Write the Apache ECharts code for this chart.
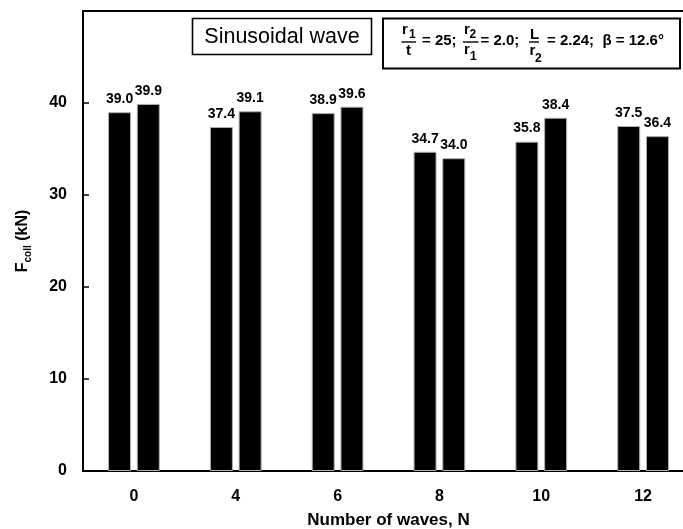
<!DOCTYPE html>
<html>
<head>
<meta charset="utf-8">
<script src="https://cdn.jsdelivr.net/npm/echarts@6/dist/echarts.min.js"></script>
<style>
  html, body { margin: 0; padding: 0; background: #fff; }
  #chart { width: 683px; height: 529px; }
</style>
</head>
<body>
<div id="chart"></div>
<script>
// Number of waves on the x axis, two loading cases per wave count
const categories = ['0', '4', '6', '8', '10', '12'];
const seriesA = [39.0, 37.4, 38.9, 34.7, 35.8, 37.5];
const seriesB = [39.9, 39.1, 39.6, 34.0, 38.4, 36.4];
const yTicks = { min: 0, max: 50, interval: 10 };

const FONT = "'Liberation Sans', Arial, sans-serif";

const chart = echarts.init(document.getElementById('chart'), null, { renderer: 'canvas' });

function barSeries(name, data) {
  return {
    name: name,
    type: 'bar',
    data: data,
    barWidth: 23,
    barGap: '25%',
    itemStyle: { color: '#000', borderColor: '#b0b0b0', borderWidth: 1 },
    label: {
      show: true,
      position: 'top',
      distance: 6,
      color: '#000',
      fontFamily: FONT,
      fontWeight: 'bold',
      fontSize: 14,
      formatter: p => p.value.toFixed(1)
    }
  };
}

// Small text helper for the formula box
function t(text, x, y, size) {
  return {
    type: 'text',
    style: {
      x: x, y: y, text: text,
      fill: '#000',
      font: 'bold ' + size + 'px ' + FONT,
      textAlign: 'left',
      textVerticalAlign: 'middle'
    }
  };
}
function bar(x1, x2, y) {
  return { type: 'line', shape: { x1: x1, y1: y, x2: x2, y2: y }, style: { stroke: '#000', lineWidth: 1.4 } };
}

const option = {
  backgroundColor: '#fff',
  animation: false,
  // plot frame runs past the right edge of the canvas
  grid: {
    left: 83, top: 11, width: 611, height: 460,
    outerBoundsMode: 'none',
    containLabel: false,
    show: true, borderColor: '#000', borderWidth: 2, backgroundColor: 'transparent'
  },
  xAxis: {
    type: 'category',
    data: categories,
    axisLine: { lineStyle: { color: '#000', width: 2 } },
    axisTick: { show: false },
    axisLabel: { color: '#000', fontFamily: FONT, fontWeight: 'bold', fontSize: 16, margin: 18 },
    name: 'Number of waves, N',
    nameLocation: 'middle',
    nameGap: 41,
    nameTextStyle: { color: '#000', fontFamily: FONT, fontWeight: 'bold', fontSize: 17 }
  },
  yAxis: {
    type: 'value',
    min: yTicks.min, max: yTicks.max, interval: yTicks.interval,
    axisLine: { show: true, lineStyle: { color: '#000', width: 2 } },
    axisTick: { show: true, inside: true, length: 6, lineStyle: { color: '#000', width: 1.5 } },
    axisLabel: { color: '#000', fontFamily: FONT, fontWeight: 'bold', fontSize: 16, margin: 16, showMaxLabel: false },
    splitLine: { show: false },
    name: '{m|F}{s|coll}{m| (kN)}',
    nameLocation: 'middle',
    nameGap: 50,
    nameTextStyle: {
      color: '#000',
      rich: {
        m: { fontFamily: FONT, fontWeight: 'bold', fontSize: 16, lineHeight: 20, verticalAlign: 'middle' },
        s: { fontFamily: FONT, fontWeight: 'bold', fontSize: 10, lineHeight: 20, verticalAlign: 'bottom' }
      }
    }
  },
  series: [barSeries('A', seriesA), barSeries('B', seriesB)],
  graphic: [
    {
      type: 'group',
      children: [
        { type: 'rect', shape: { x: 192.5, y: 18.5, width: 179, height: 36 }, style: { fill: '#fff', stroke: '#000', lineWidth: 1.6 } },
        {
          type: 'text',
          style: { x: 282, y: 37, text: 'Sinusoidal wave', fill: '#000', font: '21.5px ' + FONT, textAlign: 'center', textVerticalAlign: 'middle' }
        }
      ]
    },
    {
      type: 'group',
      children: [
        { type: 'rect', shape: { x: 383, y: 18.5, width: 297, height: 50 }, style: { fill: '#fff', stroke: '#000', lineWidth: 2 } },
        // r1 / t
        t('r', 402, 29.5, 15), t('1', 409, 34.5, 12), bar(401.5, 416, 42), t('t', 406, 50.5, 15),
        t('= 25;', 422, 41, 15),
        // r2 / r1
        t('r', 464, 29.5, 15), t('2', 469.5, 34.5, 12), bar(463, 478.5, 42), t('r', 464, 49.5, 15), t('1', 470, 57, 12),
        t('= 2.0;', 480.5, 41, 15),
        // L / r2
        t('L', 530, 34.5, 15), bar(529, 539, 42), t('r', 529.5, 51, 15), t('2', 535, 58.5, 12),
        t('= 2.24;  \u03b2 = 12.6\u00b0', 547, 41, 15)
      ]
    }
  ]
};

chart.setOption(option);
</script>
</body>
</html>
